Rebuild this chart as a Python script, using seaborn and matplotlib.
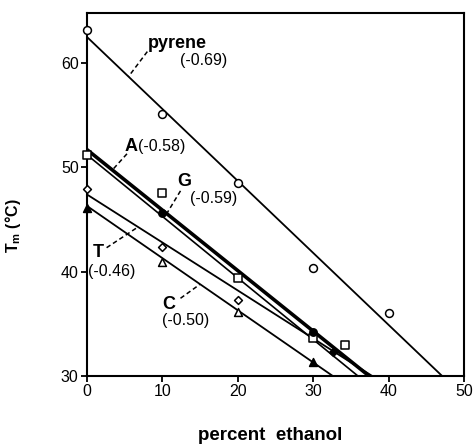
import numpy as np
import pandas as pd
import matplotlib
matplotlib.use("Agg")
import matplotlib.pyplot as plt
import seaborn as sns

# ---- data ----
series = ["pyrene", "A", "G", "T", "C"]
intercepts = [62.5, 51.7, 51.2, 47.4, 46.3]
slopes = [-0.69, -0.58, -0.59, -0.46, -0.50]
slope_labels = ["(-0.69)", "(-0.58)", "(-0.59)", "(-0.46)", "(-0.50)"]

pyrene_x = [0, 10, 20, 30, 40]
pyrene_y = [63.2, 55.1, 48.5, 40.4, 36.0]
A_x = [0, 10, 20, 30, 34.2]
A_y = [51.2, 47.5, 39.4, 33.6, 33.0]
G_x = [10, 30]
G_y = [45.6, 34.2]
T_x = [0, 10, 20, 32.6]
T_y = [47.9, 42.4, 37.3, 32.3]
T_filled = [False, False, False, True]
C_x = [0, 10, 20, 30]
C_y = [46.1, 40.9, 36.1, 31.3]
C_filled = [True, False, False, True]

x_ticks = [0, 10, 20, 30, 40, 50]
y_ticks = [30, 40, 50, 60]

# ---- style ----
sns.set_style("ticks")
plt.rcParams["font.family"] = ["Liberation Sans", "DejaVu Sans"]
plt.rcParams["mathtext.fontset"] = "custom"
plt.rcParams["mathtext.rm"] = "Liberation Sans"
plt.rcParams["mathtext.bf"] = "Liberation Sans:bold"
plt.rcParams["text.color"] = "black"
plt.rcParams["axes.labelcolor"] = "black"
plt.rcParams["xtick.color"] = "black"
plt.rcParams["ytick.color"] = "black"

fig = plt.figure(figsize=(4.74, 4.47), dpi=100)
ax = fig.add_axes([87 / 474, 71 / 447, 377 / 474, 363 / 447])

# fitted lines, drawn from x=0 to where they reach the bottom of the axis
widths = {"pyrene": 1.3, "A": 2.6, "G": 1.2, "T": 1.3, "C": 1.3}
for name, b, m in zip(series, intercepts, slopes):
    x_end = (30 - b) / m
    xs = np.array([0.0, x_end])
    df = pd.DataFrame({"x": xs, "y": b + m * xs})
    sns.lineplot(data=df, x="x", y="y", ax=ax, color="black",
                 linewidth=widths[name], zorder=2)

def scatter(xs, ys, marker, size, filled=None):
    if filled is None:
        filled = [False] * len(xs)
    df = pd.DataFrame({"x": xs, "y": ys, "f": filled})
    for f, sub in df.groupby("f"):
        sns.scatterplot(data=sub, x="x", y="y", ax=ax, marker=marker, s=size,
                        facecolor="black" if f else "white",
                        edgecolor="black", linewidth=1.1, zorder=4, clip_on=False)

scatter(pyrene_x, pyrene_y, "o", 32)
scatter(A_x, A_y, "s", 40)
scatter(G_x, G_y, "o", 28, [True] * len(G_x))
scatter(T_x, T_y, "D", 16, T_filled)
scatter(C_x, C_y, "^", 32, C_filled)

# labels with dashed leader lines
name_pos = {"pyrene": (8.1, 61.9), "A": (5.0, 52.0), "G": (12.0, 48.6),
            "T": (0.8, 41.8), "C": (10.0, 36.9)}
slope_pos = {"pyrene": (12.4, 60.2), "A": (6.7, 52.0), "G": (13.6, 47.0),
             "T": (0.15, 40.05), "C": (9.95, 35.35)}
leaders = {"pyrene": ((8.0, 61.1), (5.5, 58.7)),
           "A": ((5.3, 51.3), (3.3, 49.7)),
           "G": ((12.4, 47.75), (10.6, 45.6)),
           "T": ((2.6, 42.3), (6.8, 44.3)),
           "C": ((12.4, 37.45), (15.0, 38.8))}
for name, lab in zip(series, slope_labels):
    ax.text(*name_pos[name], name, fontsize=13, fontweight="bold",
            ha="left", va="center")
    ax.text(*slope_pos[name], lab, fontsize=11.5, ha="left", va="center")
    (x0, y0), (x1, y1) = leaders[name]
    ax.plot([x0, x1], [y0, y1], color="black", linestyle=(0, (3, 2)),
            linewidth=1.1, zorder=3)

ax.set_xlim(0, 50)
ax.set_ylim(30, 64.8)
ax.set_xticks(x_ticks)
ax.set_yticks(y_ticks)
ax.tick_params(direction="out", length=4, width=1.3, labelsize=11.5, pad=2)
for s in ax.spines.values():
    s.set_visible(True)
    s.set_linewidth(1.5)
    s.set_color("black")

ax.set_xlabel("percent  ethanol", fontsize=13.5, fontweight="bold")
ax.xaxis.set_label_coords(0.487, -0.14)
ax.set_ylabel(r"$\mathbf{T_m}$ (°C)", fontsize=11.5, fontweight="bold")
ax.yaxis.set_label_coords(-0.17, 0.413)

fig.savefig("out.png", dpi=100)
